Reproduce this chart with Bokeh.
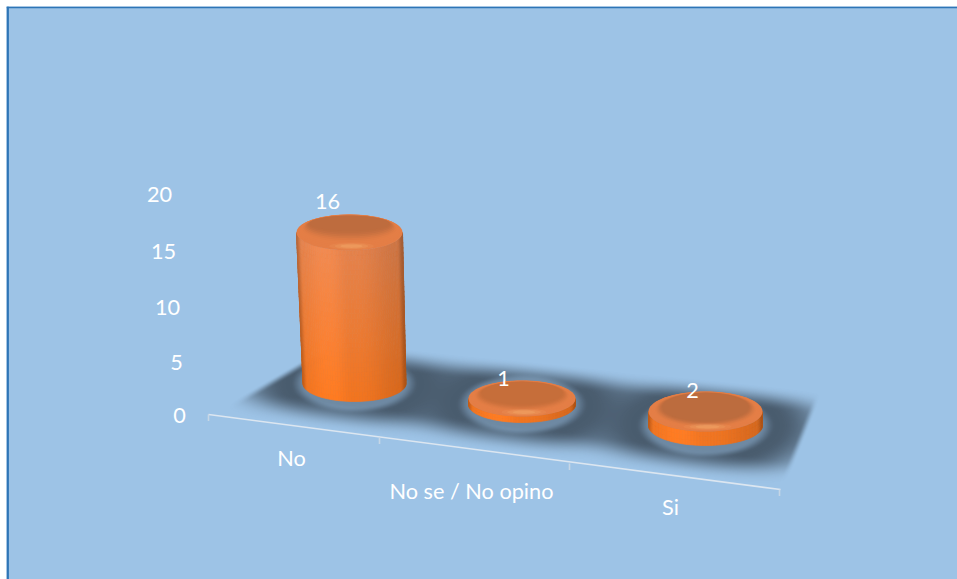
import numpy as np
from bokeh.plotting import figure
from bokeh.models import Range1d
from bokeh.core.properties import value
from bokeh.embed import file_html
from bokeh.resources import INLINE

categories = ["No", "No se / No opino", "Si"]
values = [16, 1, 2]
y_ticks = [0, 5, 10, 15, 20]

# ---- layout (screen pixels of the picture)
W, H = 951, 573
OX, OY = 6, 6
BG = "#9dc3e6"
base_cx = [354, 521.5, 705]
base_cy = [383, 404, 425]
base_a = [51.5, 53.5, 57]
top_a = [53, 53.5, 57]
top_lean = [-5, 0, 0]
ell_b = [18, 18, 20]
inner_b = [0.42, 0.62, 0.7]
px_per_unit = [9.44, 6.0, 7.0]
label_dx = [-27, -18.5, -13]
label_gap = [13, 2, 1]
cat_pos = [(291, 457), (471, 490), (670, 506)]
tick_x = [179, 176, 167, 163, 159]
tick_y = [415, 362, 307, 251, 194]
axis_a, axis_b = (208, 414), (780, 489)
axis_ticks = [(208, 414), (379, 437), (569, 463), (779, 489)]

def X(x):
    return np.asarray(x, dtype=float) - OX
def Y(y):
    return H - (np.asarray(y, dtype=float) - OY)

p = figure(width=W, height=H, output_backend="svg", toolbar_location=None,
           x_range=Range1d(0, W), y_range=Range1d(0, H), min_border=0,
           background_fill_color=BG, border_fill_color=BG, outline_line_color=None)
p.axis.visible = False
p.grid.visible = False
p.styles = {"margin-left": "6px", "margin-top": "6px"}

# ---- chart frame: top and left edges only
p.line(X([6, 6 + W]), Y([6.8, 6.8]), line_color="#2e75b6", line_width=1.8)
p.line(X([7.2, 7.2]), Y([6, 6 + H]), line_color="#2e75b6", line_width=2.4)

# ---- soft floor shadow
x0, x1, y0, y1 = 200, 830, 335, 500
gx, gy = np.meshgrid(np.arange(x0, x1) + 0.5, np.arange(y0, y1) + 0.5)

def smooth(t):
    t = np.clip(t, 0, 1)
    return t * t * (3 - 2 * t)

clear = np.ones_like(gx)
halo = np.ones_like(gx)
for cx, cy, a, b in zip(base_cx, base_cy, base_a, ell_b):
    dist = np.sqrt((gx - cx) ** 2 + ((gy - cy) * 2.1) ** 2) - a
    clear *= smooth((dist - 16) / 76)
    halo *= 0.56 + 0.44 * smooth((dist + 2) / 15)
outer = 1 - clear

mask = smooth((((305 - 212) * (gy - 412) + 54 * (gx - 212)) / np.hypot(93, 54)) / 8)
mask = mask * smooth(((513 * (gy - 338) - 52 * (gx - 305)) / np.hypot(513, 52)) / 24)
mask = mask * smooth((-(86 * (gx - 786) + 34 * (gy - 484)) / np.hypot(34, 86)) / 8)
mask = mask * smooth(((572 * (414 - gy) + 75 * (gx - 208)) / np.hypot(572, 75)) / 30)

alpha = np.clip(0.90 * outer * halo * mask, 0, 1)
img = np.zeros(gx.shape + (4,), dtype=np.uint8)
img[..., 0] = 64
img[..., 1] = 80
img[..., 2] = 96
img[..., 3] = (alpha * 255).astype(np.uint8)
rgba = img[::-1].view(dtype=np.uint32).reshape(gx.shape)
p.image_rgba(image=[rgba], x=[float(X(x0))], y=[float(Y(y1))], dw=[x1 - x0], dh=[y1 - y0])

# ---- axis line and ticks
p.line(X([axis_a[0], axis_b[0]]), Y([axis_a[1], axis_b[1]]), line_color="#dce6f0", line_width=1.6)
for tx, ty in axis_ticks:
    p.line(X([tx, tx]), Y([ty, ty + 6.5]), line_color="#c6d6e6", line_width=1.6)

# ---- cylinders
def hexc(rgb):
    return "#%02x%02x%02x" % tuple(int(np.clip(round(c), 0, 255)) for c in rgb)

def lerp(a, b, t):
    return np.array(a, float) * (1 - t) + np.array(b, float) * t

def ell(cx, cy, a, b, n=72):
    th = np.linspace(0, 2 * np.pi, n, endpoint=False)
    return X(cx + a * np.cos(th)), Y(cy + b * np.sin(th))

xs, ys, cols = [], [], []
for v, cx, cy, a0, a1, lean, b, k in zip(values, base_cx, base_cy, base_a, top_a, top_lean, ell_b, px_per_unit):
    h = v * k
    nr = max(2, int(np.ceil(h / 5)))
    nc = 60
    th = np.linspace(np.pi, 0, nc + 1)
    for r in range(nr):
        t0, t1 = r / nr, (r + 1) / nr
        tm = (t0 + t1) / 2
        for c in range(nc):
            pts = []
            for (t, q) in ((t0, th[c]), (t0, th[c + 1]), (t1, th[c + 1]), (t1, th[c])):
                a = a0 + (a1 - a0) * t
                pts.append((cx + lean * t + a * np.cos(q), cy - h * t + b * np.sin(q)))
            pts = np.array(pts)
            u = np.cos((th[c] + th[c + 1]) / 2)
            tall = float(smooth(np.array(h / 120.0)))
            base = lerp((242, 116, 30), (228, 130, 76), tm * tall + (1 - tall) * 0.05)
            shade = 0.80 + 0.20 * smooth((1 - abs(u)) / 0.10)
            if u < 0:
                shade *= 1.0 + 0.06 * smooth((u + 1) / 0.5) * smooth(-u / 0.4)
            else:
                shade *= 1.0 - 0.10 * smooth((u - 0.1) / 0.85)
            xs.append(X(pts[:, 0]).tolist())
            ys.append(Y(pts[:, 1]).tolist())
            cols.append(hexc(base * shade))
p.patches(xs, ys, fill_color=cols, line_color=cols, line_width=0.7)

# top faces
inner_col = [(190, 108, 62), (198, 110, 58), (188, 108, 62)]
for v, cx, cy, a1, lean, b, k, ic, ib in zip(values, base_cx, base_cy, top_a, top_lean, ell_b, px_per_unit, inner_col, inner_b):
    tx, ty = cx + lean, cy - v * k
    n = 12
    for i in range(n):
        f = i / (n - 1)
        aa = a1 * (1 - 0.25 * f)
        bb = b * (1 - (1 - ib) * f)
        yy = ty - (b - bb) + 1.5 * f
        col = lerp((228, 126, 70), ic, float(smooth(np.array((f - 0.35) / 0.65))))
        ex, ey = ell(tx, yy, aa, bb)
        p.patch(ex, ey, fill_color=hexc(col), line_color=None)
    for frac, al in ((1.0, 0.10), (0.75, 0.16), (0.5, 0.22)):
        ex, ey = ell(tx + 2, ty + b * 0.76, a1 * 0.42 * frac, 3.5 * frac, 40)
        p.patch(ex, ey, fill_color="#fbbf7c", fill_alpha=al, line_color=None)

# ---- texts
font = value("Lato")
FS = "21.7px"
p.text(X(tick_x), Y(tick_y), text=[str(t) for t in y_ticks], text_color="white", text_font=font,
       text_font_size=FS, text_align="center", text_baseline="middle")
p.text(X([q[0] for q in cat_pos]), Y([q[1] for q in cat_pos]), text=categories, text_color="white",
       text_font=font, text_font_size=FS, text_align="center", text_baseline="middle")
lx = [cx + d for cx, d in zip(base_cx, label_dx)]
ly = [cy - v * k - b - g for cy, v, k, b, g in zip(base_cy, values, px_per_unit, ell_b, label_gap)]
p.text(X(lx), Y(ly), text=[str(v) for v in values], text_color="white", text_font=font,
       text_font_size=FS, text_align="center", text_baseline="middle")

open("out.html", "w").write(file_html(p, INLINE))
